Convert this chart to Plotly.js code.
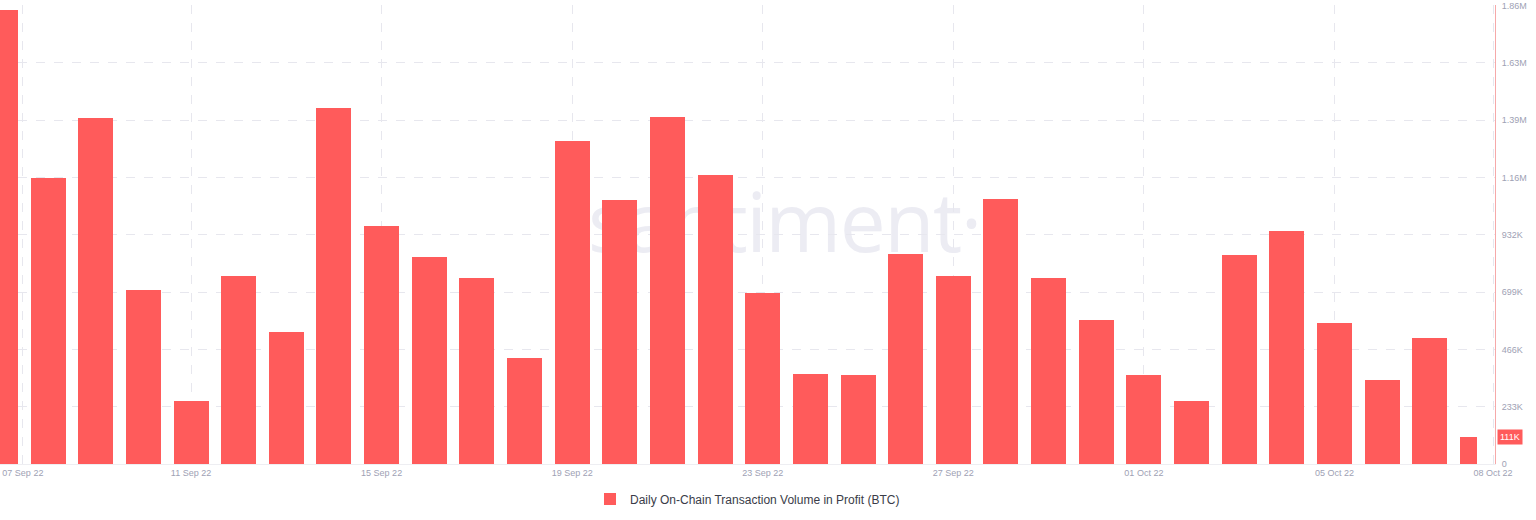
<!DOCTYPE html>
<html>
<head>
<meta charset="utf-8">
<script src="https://cdn.plot.ly/plotly-3.0.1.min.js"></script>
<style>
  html, body { margin: 0; padding: 0; background: #ffffff; }
  #wrap { position: relative; width: 1536px; height: 520px; }
  #wm { position: absolute; left: 588px; top: 164px; font-family: "Open Sans", "Noto Sans", sans-serif; font-size: 82px; line-height: normal; color: #ececf3; letter-spacing: -1.5px; z-index: 0; white-space: nowrap; }
  #chart { position: absolute; left: 0; top: 0; width: 1536px; height: 520px; z-index: 1; }
</style>
</head>
<body>
<div id="wrap">
  <div id="wm">santiment·</div>
  <div id="chart"></div>
</div>
<script>
const dates = ["07 Sep 22","08 Sep 22","09 Sep 22","10 Sep 22","11 Sep 22","12 Sep 22","13 Sep 22","14 Sep 22",
  "15 Sep 22","16 Sep 22","17 Sep 22","18 Sep 22","19 Sep 22","20 Sep 22","21 Sep 22","22 Sep 22",
  "23 Sep 22","24 Sep 22","25 Sep 22","26 Sep 22","27 Sep 22","28 Sep 22","29 Sep 22","30 Sep 22",
  "01 Oct 22","02 Oct 22","03 Oct 22","04 Oct 22","05 Oct 22","06 Oct 22","07 Oct 22","08 Oct 22"];
const volumeInProfit = [1844000,1161000,1405000,707000,256000,763000,536000,1446000,
  966000,841000,755000,430000,1312000,1072000,1409000,1174000,
  694000,365000,361000,853000,763000,1076000,755000,585000,
  361000,256000,849000,946000,573000,341000,512000,111000];
const xTickLabels = ["07 Sep 22","11 Sep 22","15 Sep 22","19 Sep 22","23 Sep 22","27 Sep 22","01 Oct 22","05 Oct 22","08 Oct 22"];
const yTickValues = [0,233000,466000,699000,932000,1165000,1398000,1631000,1864000];
const yTickLabels = ["0","233K","466K","699K","932K","1.16M","1.39M","1.63M","1.86M"];
const lastLabel = "111K";
const seriesName = "Daily On-Chain Transaction Volume in Profit (BTC)";

const RED = "#ff5b5b";
const n = dates.length;
const xIdx = dates.map((d, i) => i);
const widths = dates.map((d, i) => i === n - 1 ? 0.37 : 0.735);
const offsets = dates.map((d, i) => i === n - 1 ? -0.37 : -0.3675);

// tick positions: at bar index of each labelled date, with edge labels nudged inward
const tickPos = xTickLabels.map(lbl => dates.indexOf(lbl));
tickPos[0] = tickPos[0] + 0.47;
tickPos[tickPos.length - 1] = tickPos[tickPos.length - 1] + 0.33;

const trace = {
  type: "bar",
  x: xIdx,
  y: volumeInProfit,
  width: widths,
  offset: offsets,
  marker: { color: RED, line: { width: 0 } },
  name: seriesName,
  showlegend: true,
  hoverinfo: "y"
};

const layout = {
  width: 1536, height: 520,
  margin: { l: 0, r: 41, t: 5, b: 56 },
  paper_bgcolor: "rgba(0,0,0,0)",
  plot_bgcolor: "rgba(0,0,0,0)",
  font: { family: "Liberation Sans, Arial, sans-serif", size: 9, color: "#9ea1b4" },
  bargap: 0,
  xaxis: {
    range: [-0.01, 31.37],
    tickvals: tickPos,
    ticktext: xTickLabels,
    ticklabeloverflow: "allow",
    showgrid: true, gridcolor: "#e7e7ee", griddash: "dash", gridwidth: 1,
    zeroline: false, showline: true, linecolor: "#eeeef2",
    ticks: "", tickfont: { size: 9, color: "#9ea1b4" },
    fixedrange: true
  },
  yaxis: {
    side: "right",
    range: [0, 1866000],
    tickvals: yTickValues,
    ticktext: yTickLabels,
    ticklabeloverflow: "allow",
    showgrid: true, gridcolor: "#e7e7ee", griddash: "dash", gridwidth: 1,
    zeroline: false, showline: true, linecolor: "#f6a9a9", linewidth: 1,
    ticks: "", ticklabelstandoff: 4,
    tickfont: { size: 9, color: "#9ea1b4" },
    fixedrange: true
  },
  legend: {
    orientation: "h", x: 0.5, xanchor: "center", y: -0.076, yanchor: "middle",
    font: { size: 12, color: "#3a3c48", family: "Liberation Sans, Arial, sans-serif" },
    itemwidth: 30, bgcolor: "rgba(0,0,0,0)"
  },
  annotations: [{
    xref: "paper", yref: "y", x: 1, y: volumeInProfit[n - 1],
    xanchor: "left", yanchor: "middle", xshift: 2,
    text: lastLabel, showarrow: false,
    bgcolor: RED, font: { color: "#ffffff", size: 9 }, borderpad: 2
  }]
};

Plotly.newPlot("chart", [trace], layout, { displayModeBar: false, staticPlot: true });
</script>
</body>
</html>
